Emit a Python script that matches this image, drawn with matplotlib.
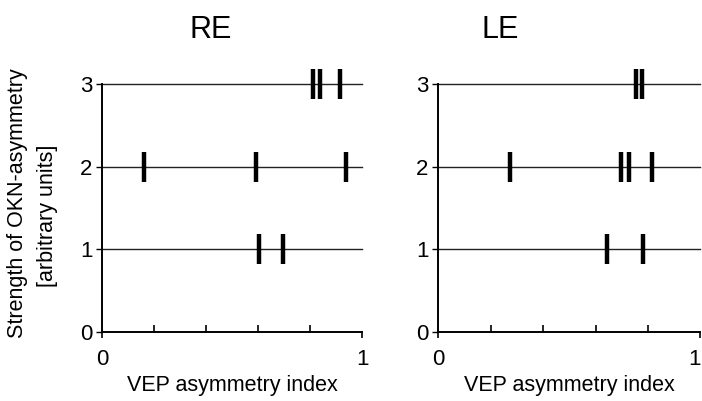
import numpy as np
import matplotlib
matplotlib.use("Agg")
import matplotlib.pyplot as plt

plt.rcParams['font.family'] = ['Liberation Sans', 'DejaVu Sans']

# VEP asymmetry index of each eye, grouped by OKN-asymmetry strength
re_level1 = [0.605, 0.695]
re_level2 = [0.160, 0.592, 0.937]
re_level3 = [0.810, 0.838, 0.915]

le_level1 = [0.645, 0.782]
le_level2 = [0.275, 0.696, 0.729, 0.815]
le_level3 = [0.753, 0.777]

levels = [1, 2, 3]
ytick_labels = ['0', '1', '2', '3']
bar_half = 0.18

fig = plt.figure(figsize=(7.02, 4.01), dpi=100)
ax_re = fig.add_axes([0.1453, 0.172, 0.3704, 0.6185])
ax_le = fig.add_axes([0.6244, 0.172, 0.3732, 0.6185])


def draw_panel(ax, rows, title, title_x):
    for lev in levels:
        ax.plot([0, 1], [lev, lev], color='#222222', lw=1.0, clip_on=False, zorder=1)
    for lev, xs in zip(levels, rows):
        ax.vlines(xs, lev - bar_half, lev + bar_half, color='black', lw=3.2,
                  clip_on=False, zorder=3)
    ax.set_xlim(0, 1)
    ax.set_ylim(0, 3)
    for s in ['top', 'right']:
        ax.spines[s].set_visible(False)
    for s in ['left', 'bottom']:
        ax.spines[s].set_linewidth(1.4)
    ax.set_xticks([0, 1])
    ax.set_xticklabels(['0', '1'], fontsize=16)
    ax.set_xticks([0.2, 0.4, 0.6, 0.8], minor=True)
    ax.tick_params(axis='x', which='major', direction='out', length=4, width=1.2, pad=8)
    ax.tick_params(axis='x', which='minor', direction='in', length=5, width=1.2)
    ax.set_yticks([0, 1, 2, 3])
    ax.set_yticklabels(ytick_labels, fontsize=16)
    ax.tick_params(axis='y', direction='out', length=4, width=1.0, pad=3)
    ax.set_xlabel('VEP asymmetry index', fontsize=15.5, labelpad=4)
    ax.text(title_x, 1.218, title, transform=ax.transAxes, fontsize=22,
            ha='center', va='center')


draw_panel(ax_re, [re_level1, re_level2, re_level3], 'RE', 0.418)
draw_panel(ax_le, [le_level1, le_level2, le_level3], 'LE', 0.237)
# the right-hand "1" sits at the figure edge; keep it inside
ax_le.get_xticklabels()[1].set_ha('right')

fig.text(18 / 702, 1 - 203 / 401, 'Strength of OKN-asymmetry', rotation=90,
         fontsize=15.5, ha='center', va='center')
fig.text(48 / 702, 1 - 216 / 401, '[arbitrary units]', rotation=90,
         fontsize=15.5, ha='center', va='center')

fig.savefig('out.png', dpi=100)
